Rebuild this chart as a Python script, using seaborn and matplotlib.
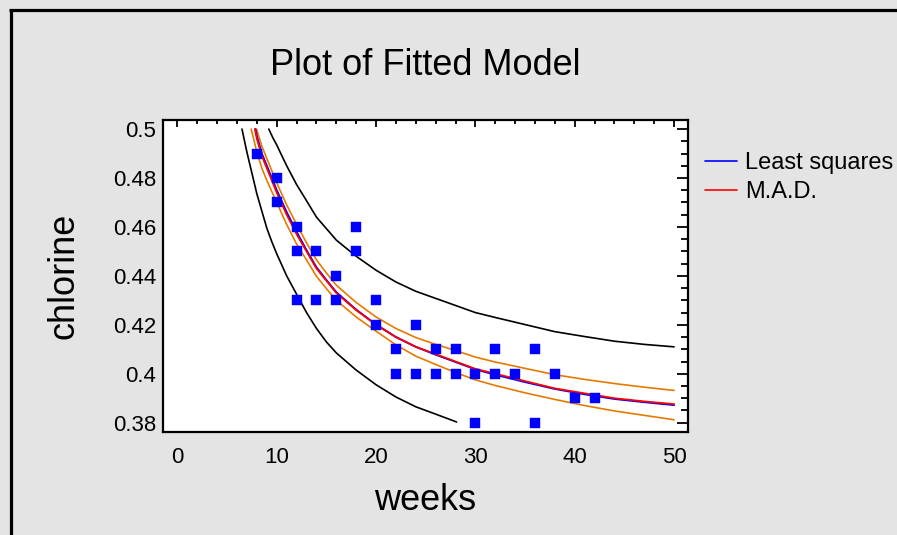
import matplotlib
matplotlib.use("Agg")
import matplotlib.pyplot as plt
import seaborn as sns
import pandas as pd
from matplotlib.ticker import MultipleLocator, FixedLocator
from matplotlib.lines import Line2D

# ---- observed data ----
weeks = [8, 10, 10, 12, 12, 12, 14, 14, 16, 16, 18, 18, 20, 20, 22, 22, 24, 24,
         26, 26, 28, 28, 30, 30, 32, 32, 34, 36, 36, 38, 40, 42]
chlorine = [0.49, 0.48, 0.47, 0.46, 0.45, 0.43, 0.45, 0.43, 0.44, 0.43, 0.46, 0.45,
            0.43, 0.42, 0.41, 0.40, 0.42, 0.40, 0.41, 0.40, 0.41, 0.40, 0.40, 0.38,
            0.41, 0.40, 0.40, 0.41, 0.38, 0.40, 0.39, 0.39]

# ---- fitted curves ----
mad_x = [7.8, 8, 8.5, 9, 9.5, 10, 11, 12, 13, 14, 15, 16, 18, 20, 22, 24, 26, 28,
         30, 32, 35, 38, 41, 44, 47, 50]
mad_y = [0.500, 0.496, 0.489, 0.484, 0.479, 0.474, 0.465, 0.457, 0.450, 0.443, 0.438,
         0.433, 0.426, 0.420, 0.415, 0.411, 0.408, 0.405, 0.402, 0.400, 0.397, 0.394,
         0.392, 0.390, 0.3887, 0.3876]
ls_x = [7.85, 8, 8.5, 9, 9.5, 10, 11, 12, 13, 14, 15, 16, 18, 20, 22, 24, 26, 28,
        30, 32, 35, 38, 41, 44, 47, 50]
ls_y = [0.500, 0.497, 0.490, 0.485, 0.480, 0.475, 0.466, 0.458, 0.4505, 0.4435, 0.4383,
        0.4333, 0.4262, 0.4201, 0.415, 0.411, 0.4078, 0.4048, 0.4018, 0.3996, 0.3966,
        0.3938, 0.3916, 0.3897, 0.3884, 0.3872]

conf_up_x = [7.97, 8.5, 9, 9.5, 10, 11, 12, 13, 14, 15, 16, 18, 20, 22, 24, 26, 28,
             30, 32, 35, 38, 41, 44, 47, 50]
conf_up_y = [0.500, 0.493, 0.488, 0.483, 0.478, 0.469, 0.461, 0.4535, 0.4465, 0.4412,
             0.4362, 0.4291, 0.4232, 0.4185, 0.4148, 0.4120, 0.4095, 0.4068, 0.4048,
             0.4022, 0.3996, 0.3977, 0.3960, 0.3945, 0.3932]
conf_lo_x = [7.43, 8, 8.5, 9, 9.5, 10, 11, 12, 13, 14, 15, 16, 18, 20, 22, 24, 26, 28,
             30, 32, 35, 38, 41, 44, 47, 50]
conf_lo_y = [0.500, 0.4905, 0.484, 0.479, 0.4745, 0.470, 0.461, 0.453, 0.4465, 0.4398,
             0.4348, 0.4300, 0.4232, 0.4174, 0.4118, 0.4072, 0.4038, 0.4005, 0.3975,
             0.3952, 0.3922, 0.3895, 0.3870, 0.3848, 0.3830, 0.3812]

pred_up_x = [9.2, 9.6, 10, 10.5, 11, 12, 13, 14, 15, 16, 18, 20, 22, 24, 26, 28,
             30, 32, 35, 38, 41, 44, 47, 50]
pred_up_y = [0.500, 0.4965, 0.4935, 0.4892, 0.4850, 0.4773, 0.4707, 0.4640, 0.4593,
             0.4546, 0.4480, 0.4423, 0.4375, 0.4337, 0.4308, 0.4279, 0.4250, 0.4230,
             0.4201, 0.4172, 0.4152, 0.4133, 0.4120, 0.4110]
pred_lo_x = [6.5, 7.0, 7.5, 8, 8.5, 9, 9.5, 10, 11, 12, 13, 14, 15, 16, 18, 20, 22,
             24, 26, 28.1]
pred_lo_y = [0.500, 0.4905, 0.4820, 0.4735, 0.4665, 0.4595, 0.4540, 0.4490, 0.4400,
             0.4325, 0.4250, 0.4185, 0.4130, 0.4085, 0.4015, 0.3955, 0.3905, 0.3865,
             0.3835, 0.3803]

x_ticks = [0, 10, 20, 30, 40, 50]
y_ticks = [0.38, 0.40, 0.42, 0.44, 0.46, 0.48, 0.50]
y_tick_labels = ["0.38", "0.4", "0.42", "0.44", "0.46", "0.48", "0.5"]

# ---- styling ----
sns.set_style("white")
plt.rcParams["font.family"] = ["Liberation Sans", "DejaVu Sans"]
plt.rcParams["text.color"] = "black"
plt.rcParams["axes.labelcolor"] = "black"
plt.rcParams["xtick.color"] = "black"
plt.rcParams["ytick.color"] = "black"

BG = "#e4e4e4"
ORANGE = "#e67a00"

fig = plt.figure(figsize=(8.97, 5.35), dpi=100, facecolor=BG)
ax = fig.add_axes([163 / 897, 1 - 432 / 535, 525 / 897, 312 / 535])
ax.set_facecolor("white")

def curve(xs, ys, color, lw=1.2, z=2):
    df = pd.DataFrame({"x": xs, "y": ys})
    sns.lineplot(data=df, x="x", y="y", ax=ax, color=color, linewidth=lw,
                 sort=False, estimator=None, legend=False, zorder=z)

curve(pred_up_x, pred_up_y, "black")
curve(pred_lo_x, pred_lo_y, "black")
curve(conf_up_x, conf_up_y, ORANGE)
curve(conf_lo_x, conf_lo_y, ORANGE)
curve(ls_x, ls_y, "#0000ff", lw=1.4, z=3)
curve(mad_x, mad_y, "#ff0000", lw=1.3, z=4)

pts = pd.DataFrame({"weeks": weeks, "chlorine": chlorine})
sns.scatterplot(data=pts, x="weeks", y="chlorine", ax=ax, marker="s", s=55,
                color="#0000ff", edgecolor="#0000ff", linewidth=0.3, zorder=5)

ax.set_xlim(-1.45, 51.4)
ax.set_ylim(0.3762, 0.5037)

ax.xaxis.set_major_locator(FixedLocator(x_ticks))
ax.xaxis.set_minor_locator(MultipleLocator(2))
ax.yaxis.set_major_locator(FixedLocator(y_ticks))
ax.set_yticklabels(y_tick_labels)
ax.yaxis.set_minor_locator(MultipleLocator(0.005))

ax.tick_params(axis="both", which="both", direction="in", top=True, right=True,
               colors="black", width=1.3)
ax.tick_params(axis="x", which="major", length=5, pad=10.5, labelsize=16)
ax.tick_params(axis="x", which="minor", length=2.8)
ax.tick_params(axis="y", which="major", length=7.9, pad=5, labelsize=16)
ax.tick_params(axis="y", which="minor", length=5)

for sp in ax.spines.values():
    sp.set_visible(True)
    sp.set_color("black")
    sp.set_linewidth(1.6)

ax.set_xlabel("weeks", fontsize=26)
ax.set_ylabel("chlorine", fontsize=26)
ax.xaxis.set_label_coords(0.5, -0.162)
ax.yaxis.set_label_coords(-0.155, 0.5)

fig.text(425.5 / 897, 1 - 75 / 535, "Plot of Fitted Model", fontsize=26,
         ha="center", va="baseline")

handles = [Line2D([], [], color="#0000ff", lw=1.2), Line2D([], [], color="#ff0000", lw=1.2)]
fig.legend(handles, ["Least squares", "M.A.D."], loc="upper left",
           bbox_to_anchor=(705 / 897, 1 - 152 / 535), frameon=False, fontsize=17,
           handlelength=1.35, handletextpad=0.35, borderpad=0, borderaxespad=0,
           labelspacing=0.3)

# frame lines on left and top of the figure
fig.add_artist(Line2D([10.5 / 897, 10.5 / 897], [0, 1 - 9.5 / 535], color="black",
                      lw=2.3, transform=fig.transFigure, solid_capstyle="butt"))
fig.add_artist(Line2D([9 / 897, 1], [1 - 9.5 / 535, 1 - 9.5 / 535], color="black",
                      lw=2.3, transform=fig.transFigure, solid_capstyle="butt"))

fig.savefig("out.png", dpi=100, facecolor=BG)
